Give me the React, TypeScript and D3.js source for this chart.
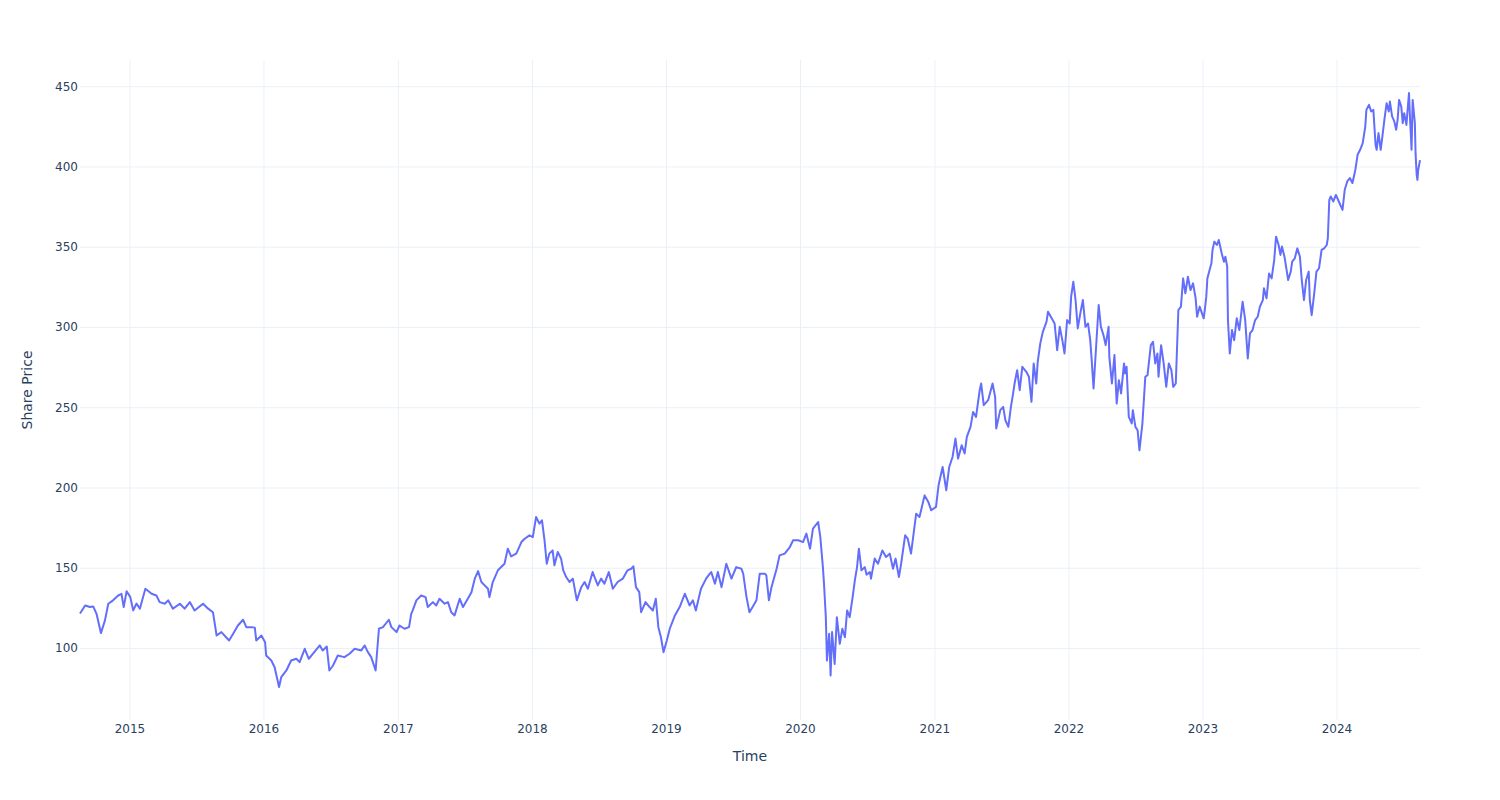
import React from "react";
import * as d3 from "d3";

const dates: string[] = [
  "2014-08-18","2014-09-01","2014-09-14","2014-09-23","2014-10-02","2014-10-14","2014-10-25","2014-11-03","2014-11-16","2014-11-30","2014-12-09","2014-12-15","2014-12-23",
  "2015-01-02","2015-01-10","2015-01-19","2015-01-28","2015-02-12","2015-03-01","2015-03-14","2015-03-23","2015-04-06","2015-04-15","2015-04-28","2015-05-17","2015-05-30","2015-06-13","2015-06-26","2015-07-19","2015-08-02","2015-08-15","2015-08-25","2015-09-07","2015-09-28","2015-10-09","2015-10-22","2015-11-05","2015-11-14","2015-11-28","2015-12-07","2015-12-11","2015-12-25",
  "2016-01-04","2016-01-07","2016-01-21","2016-01-30","2016-02-11","2016-02-17","2016-03-02","2016-03-15","2016-03-29","2016-04-07","2016-04-21","2016-05-02","2016-05-13","2016-06-01","2016-06-09","2016-06-20","2016-06-27","2016-07-07","2016-07-20","2016-08-07","2016-08-21","2016-09-04","2016-09-22","2016-10-01","2016-10-10","2016-10-19","2016-10-31","2016-11-09","2016-11-20","2016-12-06","2016-12-13","2016-12-27",
  "2017-01-04","2017-01-18","2017-01-30","2017-02-05","2017-02-09","2017-02-19","2017-03-04","2017-03-16","2017-03-22","2017-04-05","2017-04-14","2017-04-23","2017-05-07","2017-05-16","2017-05-25","2017-06-03","2017-06-17","2017-06-26","2017-07-09","2017-07-19","2017-07-28","2017-08-06","2017-08-15","2017-08-24","2017-09-02","2017-09-06","2017-09-15","2017-09-29","2017-10-17","2017-10-26","2017-11-04","2017-11-18","2017-12-02","2017-12-11","2017-12-24",
  "2018-01-02","2018-01-11","2018-01-20","2018-01-27","2018-02-03","2018-02-09","2018-02-16","2018-02-25","2018-03-02","2018-03-11","2018-03-20","2018-03-26","2018-04-03","2018-04-12","2018-04-21","2018-05-02","2018-05-14","2018-05-23","2018-06-01","2018-06-14","2018-06-28","2018-07-07","2018-07-16","2018-07-28","2018-08-08","2018-08-21","2018-09-04","2018-09-17","2018-09-27","2018-10-03","2018-10-10","2018-10-19","2018-10-24","2018-11-05","2018-11-16","2018-11-25","2018-12-03","2018-12-10","2018-12-17","2018-12-24",
  "2019-01-02","2019-01-10","2019-01-24","2019-02-06","2019-02-20","2019-03-05","2019-03-14","2019-03-22","2019-04-05","2019-04-19","2019-04-29","2019-05-03","2019-05-13","2019-05-21","2019-05-31","2019-06-13","2019-06-27","2019-07-10","2019-07-24","2019-07-29","2019-08-07","2019-08-15","2019-08-26","2019-09-03","2019-09-12","2019-09-26","2019-09-30","2019-10-07","2019-10-14","2019-10-28","2019-11-05","2019-11-19","2019-12-03","2019-12-12","2019-12-26",
  "2020-01-08","2020-01-17","2020-01-27","2020-02-04","2020-02-18","2020-02-24","2020-03-02","2020-03-05","2020-03-10","2020-03-13","2020-03-19","2020-03-23","2020-03-27","2020-04-03","2020-04-09","2020-04-17","2020-04-24","2020-05-01","2020-05-07","2020-05-14","2020-05-22","2020-05-28","2020-06-03","2020-06-08","2020-06-15","2020-06-24","2020-06-29","2020-07-08","2020-07-11","2020-07-21","2020-07-30","2020-08-11","2020-08-21","2020-08-31","2020-09-09","2020-09-16","2020-09-25","2020-10-01","2020-10-12","2020-10-19","2020-10-28","2020-11-04","2020-11-11","2020-11-20","2020-12-04","2020-12-14","2020-12-22",
  "2021-01-04","2021-01-11","2021-01-22","2021-02-01","2021-02-09","2021-02-18","2021-02-26","2021-03-05","2021-03-15","2021-03-23","2021-03-29","2021-04-08","2021-04-15","2021-04-23","2021-05-03","2021-05-07","2021-05-14","2021-05-26","2021-06-07","2021-06-14","2021-06-17","2021-06-28","2021-07-06","2021-07-12","2021-07-20","2021-07-27","2021-08-02","2021-08-06","2021-08-13","2021-08-20","2021-08-27","2021-09-07","2021-09-14","2021-09-21","2021-09-27","2021-10-04","2021-10-08","2021-10-15","2021-10-22","2021-11-01","2021-11-05","2021-11-15","2021-11-23","2021-11-30","2021-12-07","2021-12-14","2021-12-20","2021-12-27",
  "2022-01-03","2022-01-07","2022-01-13","2022-01-19","2022-01-25","2022-02-01","2022-02-08","2022-02-15","2022-02-22","2022-02-28","2022-03-04","2022-03-09","2022-03-16","2022-03-23","2022-03-29","2022-04-05","2022-04-11","2022-04-19","2022-04-21","2022-04-28","2022-05-05","2022-05-11","2022-05-17","2022-05-23","2022-05-31","2022-06-03","2022-06-07","2022-06-13","2022-06-21","2022-06-24","2022-07-01","2022-07-07","2022-07-12","2022-07-20","2022-07-28","2022-08-03","2022-08-12","2022-08-18","2022-08-24","2022-08-30","2022-09-02","2022-09-09","2022-09-16","2022-09-23","2022-09-30","2022-10-07","2022-10-12","2022-10-19","2022-10-26","2022-11-02","2022-11-08","2022-11-14","2022-11-21","2022-11-28","2022-12-05","2022-12-12","2022-12-16","2022-12-23",
  "2023-01-03","2023-01-06","2023-01-10","2023-01-13","2023-01-19","2023-01-24","2023-01-27","2023-02-01","2023-02-08","2023-02-13","2023-02-21","2023-02-27","2023-03-03","2023-03-08","2023-03-10","2023-03-15","2023-03-21","2023-03-27","2023-04-03","2023-04-10","2023-04-19","2023-04-26","2023-05-03","2023-05-09","2023-05-16","2023-05-23","2023-05-30","2023-06-05","2023-06-13","2023-06-16","2023-06-23","2023-06-30","2023-07-07","2023-07-14","2023-07-19","2023-07-26","2023-07-31","2023-08-04","2023-08-11","2023-08-21","2023-08-28","2023-09-01","2023-09-08","2023-09-15","2023-09-22","2023-09-27","2023-10-03","2023-10-09","2023-10-16","2023-10-19","2023-10-24","2023-10-31","2023-11-06","2023-11-13","2023-11-20","2023-11-27","2023-12-04","2023-12-07","2023-12-11","2023-12-15","2023-12-22","2023-12-29",
  "2024-01-08","2024-01-16","2024-01-22","2024-01-29","2024-02-05","2024-02-12","2024-02-20","2024-02-26","2024-03-04","2024-03-11","2024-03-18","2024-03-21","2024-03-28","2024-04-03","2024-04-09","2024-04-15","2024-04-18","2024-04-23","2024-04-29","2024-05-03","2024-05-09","2024-05-15","2024-05-21","2024-05-24","2024-05-30","2024-06-05","2024-06-10","2024-06-14","2024-06-18","2024-06-24","2024-06-28","2024-07-02","2024-07-08","2024-07-15","2024-07-18","2024-07-22","2024-07-25","2024-07-31","2024-08-02","2024-08-05","2024-08-07","2024-08-09","2024-08-14"
];

const prices: number[] = [
  121.8,126.8,125.8,126.2,121.6,109.6,117.5,127.9,130,133,134,125.8,135.7,
  132,123.7,128,124.8,137.2,134.1,133,128.9,127.9,130,124.8,127.9,124.8,128.9,123.7,127.9,124.8,122.6,108.1,110.2,105,109.2,114.3,117.9,113.3,113.3,113,105,108.1,
  103.9,95.6,92.5,88.3,76,82.1,86.3,92.5,93.6,91.5,99.8,93.6,96.7,101.9,98.8,101.2,86.3,89.4,95.6,94.6,96.7,99.8,98.8,101.9,97.7,94.6,86.3,112.3,113.3,117.9,113.3,110.2,
  114.3,112.3,113.3,121.6,123.7,130,133,132,125.8,128.9,126.8,131,127.9,128.9,122.6,120.6,131,125.8,131,135.1,143.5,148.2,141.4,139.3,137.2,132,141.4,148.7,152.8,162.2,157.4,159.1,166.3,168.4,170.5,
  169.4,181.9,177.8,179.9,167.4,152.8,159.1,161.1,151.8,160.1,156,148.7,144.5,141.4,143.5,130,138.2,141.4,137.2,147.6,139.3,143.5,140.4,147.6,137.2,141.4,143.5,148.7,149.7,151.2,138.2,135.1,122.6,128.9,125.8,123.7,131,113.3,107,97.7,
  105,112.3,120.6,125.8,134.1,126.8,130,123.7,137.2,143.5,146.6,147.6,140.4,147.6,138.2,152.8,143.5,150.7,149.7,146.6,132,122.6,126.8,130,146.6,146.6,145.5,130,138.2,149.7,158,159.1,163.2,167.4,167.4,
  166.3,171.6,162.2,174.7,178.8,169.4,150.7,140.4,119.5,92.5,109.2,83.2,110.2,90.4,119.5,102.9,112.3,107,123.7,119.5,132,142.4,150.7,162.2,148.7,150.7,146,147.6,143.5,156,152.8,161.1,157,159.1,149.7,156,144.5,152.8,170.5,168.4,159.1,171.6,184,181.9,195.4,191.3,186.1,
  188.2,201.7,213.1,198.6,213.1,219.3,230.8,218.3,226.6,221.5,231.8,238.1,247.4,244.3,260.9,265.1,251.6,254.7,265.1,256.8,237.1,248.5,250.5,242.2,238.1,250.5,258.9,265.1,273.4,260.9,275.5,272.4,269.3,253.7,277.6,265.1,278.6,290.1,297.3,303.6,309.8,305.7,302.5,285.9,300.4,292.1,283.8,304.6,
  302.5,319.2,328.5,317.1,299.4,308.8,317.1,300.4,302.5,292.1,279.7,262,288,314,300.4,295.3,289,300.4,281.7,265.1,282.8,252.6,267.2,258.9,277.6,271.4,275.5,244.3,240.2,248.5,238.1,236,223.5,240,269.3,270.3,289,291.1,277.6,283.8,269.3,289,277.6,263,277.6,273.4,263,265.1,310.9,313,330.6,321.3,331.6,323.3,327.5,318.2,306.7,313,
  305.7,310.9,319.2,330.6,335.8,340,348.3,353.5,351.4,354.5,346.2,341,344.1,337.9,304.6,283.8,298.4,292.1,305.7,298.4,316.1,304.6,280.7,296.3,298.4,304.6,306.7,312.9,317,324.4,318.2,333.7,330.6,342.1,356.6,351.4,345.2,350.4,344.1,329.6,334.8,341,343.1,349.3,344.1,329.6,317.1,329.6,334.8,317.1,307.7,321.3,334.8,336.9,348.3,349.3,351.4,355.6,379.5,381.6,378.5,382.6,
  377.4,373.3,385.8,391,393.1,390,398.3,407.6,410.7,414.9,425.2,435.6,438.7,434.6,435.6,413.8,410.7,421.1,410.7,418,429.4,439.7,434.6,440.8,431.5,428.4,423.2,429.4,441.8,437.6,427.3,433.5,426.2,446.1,429.4,410.7,441.8,427.3,408,395,392,398,404.3
];

const yTicks: number[] = [100, 150, 200, 250, 300, 350, 400, 450];
const xTickYears: number[] = [2015, 2016, 2017, 2018, 2019, 2020, 2021, 2022, 2023, 2024];

const W = 1500, H = 800;
const M = { left: 80, right: 80, top: 60, bottom: 80 };
const FONT = '"DejaVu Sans", "Open Sans", verdana, arial, sans-serif';
const TEXT = "#2a3f5f";
const GRID = "#ebf0f8";
const LINE = "#636efa";

export default function App() {
  const parse = d3.timeParse("%Y-%m-%d");
  const data = dates.map((d, i) => ({ t: parse(d) as Date, v: prices[i] }));
  const x = d3
    .scaleTime()
    .domain(d3.extent(data, (d) => d.t) as [Date, Date])
    .range([M.left, W - M.right]);
  const [lo, hi] = d3.extent(data, (d) => d.v) as [number, number];
  const pad = ((hi - lo) * 0.05) / 0.9;
  const y = d3
    .scaleLinear()
    .domain([lo - pad, hi + pad])
    .range([H - M.bottom, M.top]);
  const line = d3
    .line<{ t: Date; v: number }>()
    .x((d) => x(d.t))
    .y((d) => y(d.v));
  const xTicks = xTickYears.map((yr) => new Date(yr, 0, 1));

  return (
    <svg
      width={W}
      height={H}
      style={{ position: "absolute", left: 0, top: 0, background: "#fff" }}
      fontFamily={FONT}
    >
      <rect x={0} y={0} width={W} height={H} fill="#fff" />
      {xTicks.map((t, i) => (
        <line key={"gx" + i} x1={x(t)} x2={x(t)} y1={M.top} y2={H - M.bottom} stroke={GRID} strokeWidth={1} />
      ))}
      {yTicks.map((v) => (
        <line key={"gy" + v} x1={M.left} x2={W - M.right} y1={y(v)} y2={y(v)} stroke={GRID} strokeWidth={1} />
      ))}
      <path d={line(data) || ""} fill="none" stroke={LINE} strokeWidth={2} strokeLinejoin="round" />
      {xTicks.map((t, i) => (
        <text key={"tx" + i} x={x(t)} y={733} textAnchor="middle" fontSize={12} fill={TEXT}>
          {xTickYears[i]}
        </text>
      ))}
      {yTicks.map((v) => (
        <text key={"ty" + v} x={78} y={y(v) + 4} textAnchor="end" fontSize={12} fill={TEXT}>
          {v}
        </text>
      ))}
      <text x={(M.left + W - M.right) / 2} y={761} textAnchor="middle" fontSize={14} fill={TEXT}>
        Time
      </text>
      <text
        transform={`translate(32, ${(M.top + H - M.bottom) / 2}) rotate(-90)`}
        textAnchor="middle"
        fontSize={14}
        fill={TEXT}
      >
        Share Price
      </text>
    </svg>
  );
}
